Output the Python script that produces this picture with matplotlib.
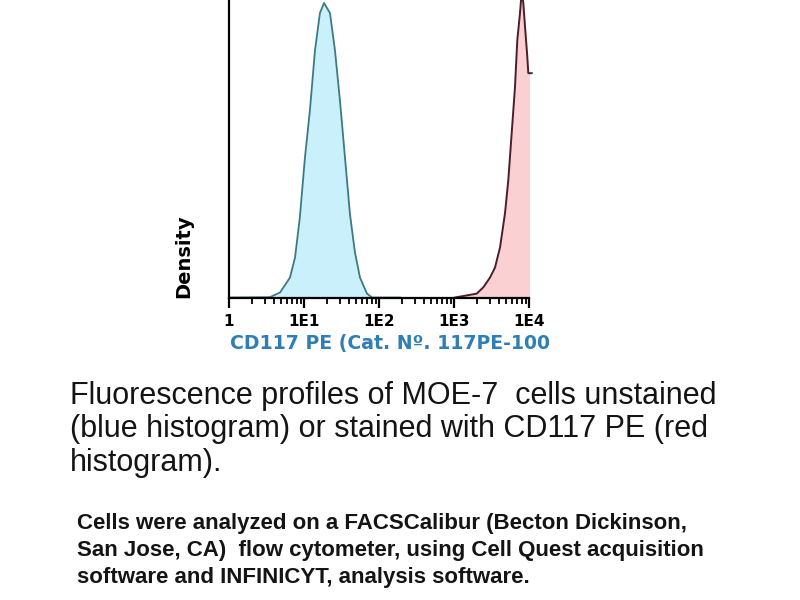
import matplotlib
matplotlib.use("Agg")
import matplotlib.pyplot as plt
from matplotlib.ticker import FixedLocator, NullFormatter

# ---- data ----
blue_x = [1, 3.5, 4.8, 6.5, 7.6, 8.8, 10.3, 12.0, 14.0, 16.3, 18.5, 22.2, 25.9, 30.2,
          35.2, 41.0, 47.9, 55.8, 69.2, 80.7, 190]
blue_y = [0, 0.1, 1.7, 6.7, 13.5, 26.9, 47.1, 63.0, 83.0, 95.6, 99.0, 95.6, 83.0, 66.0,
          47.0, 28.0, 15.0, 6.7, 1.3, 0, 0]

red_x = [1031, 2009, 2455, 3020, 3524, 4106, 4786, 5297, 5875, 6502, 6982, 7586, 8000,
         8397, 8849, 9490, 9790, 10870]
red_y = [0, 1.3, 3.4, 6.7, 10.1, 16.8, 28.3, 39.4, 55.2, 70.7, 86.5, 95.6, 103.0,
         99.0, 91.0, 81.0, 75.4, 75.4]

tick_vals = [1, 10, 100, 1000, 10000]
tick_labels = ["1", "1E1", "1E2", "1E3", "1E4"]

xlabel = "CD117 PE (Cat. Nº. 117PE-100"
ylabel = "Density"
caption1 = ["Fluorescence profiles of MOE-7  cells unstained",
            "(blue histogram) or stained with CD117 PE (red",
            "histogram)."]
caption2 = ["Cells were analyzed on a FACSCalibur (Becton Dickinson,",
            "San Jose, CA)  flow cytometer, using Cell Quest acquisition",
            "software and INFINICYT, analysis software."]

W, H = 800, 600
fig = plt.figure(figsize=(8, 6), dpi=100)
fig.patch.set_facecolor("white")

ax = fig.add_axes([229 / W, 1 - 297.5 / H, 300 / W, 297.5 / H])
ax.set_xscale("log")
ax.set_xlim(1, 10000)
ax.set_ylim(0, 100)

ax.fill_between(blue_x, 0, blue_y, color="#c9f0fb", lw=0)
ax.plot(blue_x, blue_y, color="#3d7a82", lw=1.3)
ax.fill_between(red_x, 0, red_y, color="#fbd0d2", lw=0)
ax.plot(red_x, red_y, color="#4a1e2a", lw=1.4, clip_on=False)

for s in ["top", "right"]:
    ax.spines[s].set_visible(False)
ax.spines["left"].set_linewidth(1.6)
ax.spines["bottom"].set_linewidth(1.6)
ax.set_yticks([])

ax.xaxis.set_major_locator(FixedLocator(tick_vals))
ax.set_xticklabels(tick_labels, fontsize=11, fontweight="bold", family="DejaVu Sans")
minors = [m * 10 ** d for d in range(4) for m in range(2, 10)]
ax.xaxis.set_minor_locator(FixedLocator(minors))
ax.xaxis.set_minor_formatter(NullFormatter())
ax.tick_params(axis="x", which="major", length=7, width=1.6, pad=5, direction="out")
ax.tick_params(axis="x", which="minor", length=4, width=1.3, direction="out")

fig.text(230 / W, 1 - 349 / H, xlabel, ha="left", va="baseline", fontsize=13.6,
         fontweight="bold", color="#2e7fb5", family="DejaVu Sans")
fig.text(184 / W, 1 - 256 / H, ylabel, ha="center", va="center", rotation=90,
         fontsize=14, fontweight="bold", color="black", family="DejaVu Sans")

for i, line in enumerate(caption1):
    fig.text(70 / W, 1 - (404 + 33.5 * i) / H, line, ha="left", va="baseline",
             fontsize=22, color="#141414", family="Liberation Sans")
for i, line in enumerate(caption2):
    fig.text(77 / W, 1 - (529 + 27 * i) / H, line, ha="left", va="baseline",
             fontsize=16, fontweight="bold", color="#141414", family="Liberation Sans")

fig.savefig("out.png", dpi=100, facecolor="white")
